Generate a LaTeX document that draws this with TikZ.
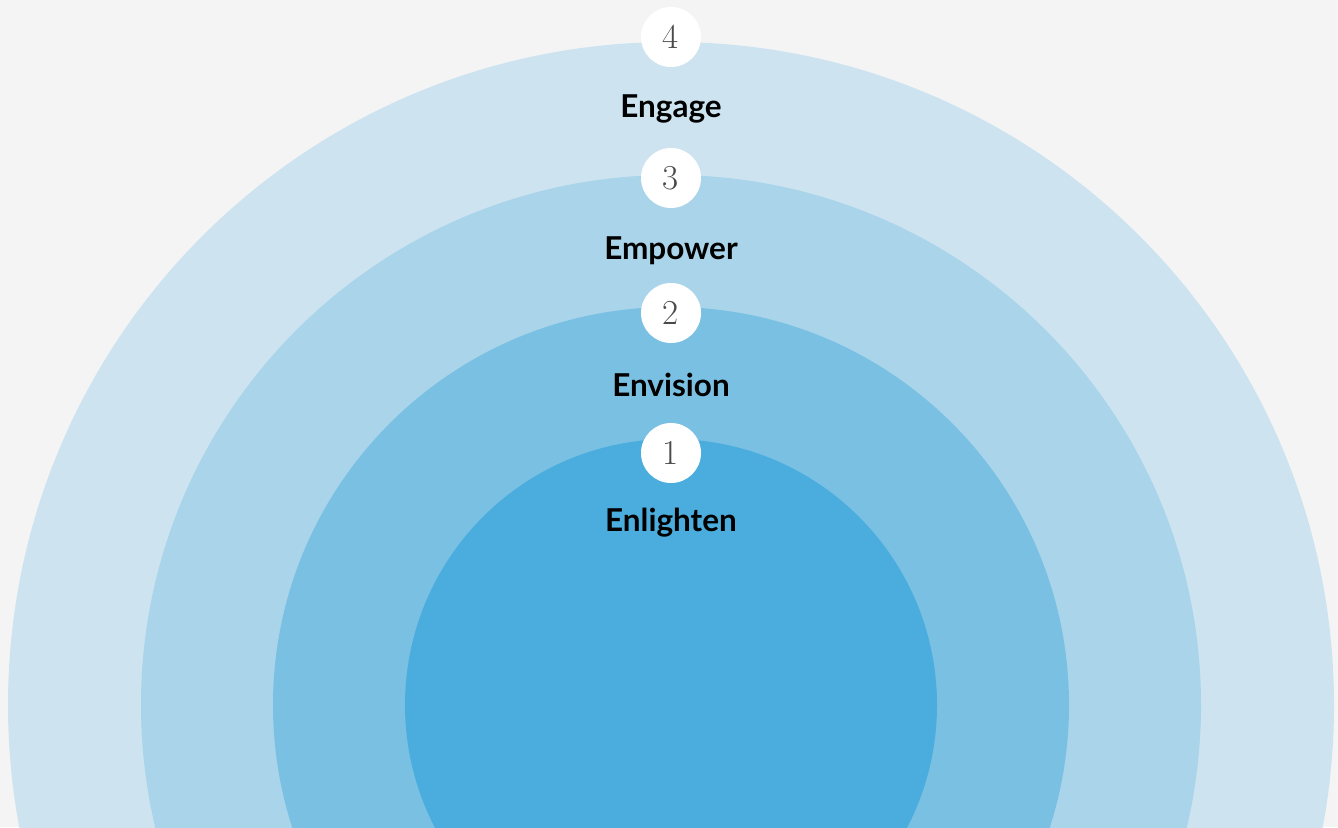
\documentclass[tikz,border=0pt]{standalone}
\usepackage{fontspec}
\newfontfamily\latofont{Lato}
\usetikzlibrary{positioning}
\definecolor{bgcol}{HTML}{F4F4F4}
\definecolor{ringa}{HTML}{CDE4F0}
\definecolor{ringb}{HTML}{A9D4EA}
\definecolor{ringc}{HTML}{7AC0E3}
\definecolor{ringd}{HTML}{4BADDD}
\definecolor{numcol}{HTML}{4A4A4A}
\begin{document}
\begin{tikzpicture}[x=1pt,y=1pt,
    num/.style = {shape=circle, fill=white, minimum size=60pt, inner sep=0pt,
    text=numcol, font=\fontsize{35}{35}\selectfont},
    lbl/.style = {font=\latofont\bfseries\fontsize{31.5}{31.5}\selectfont, text=black}]
    \useasboundingbox (0,0) rectangle (1338,827);
    \fill[bgcol] (0,0) rectangle (1338,827);
    \begin{scope}
      \clip (0,0) rectangle (1338,827);
      \coordinate (c) at (671,122);
      \fill[ringa] (c) circle (663);
      \fill[ringb] (c) circle (530);
      \fill[ringc] (c) circle (398);
      \fill[ringd] (c) circle (266);
    \end{scope}
    \node[num] (n4) at (671,790) {4};
    \node[num] (n3) at (671,649) {3};
    \node[num] (n2) at (671,514) {2};
    \node[num] (n1) at (671,374) {1};
    \node[lbl] (engage) at (671,718) {Engage};
    \node[lbl] (empower) at (671,576) {Empower};
    \node[lbl] (envision) at (671,442) {Envision};
    \node[lbl] (enlighten) at (671,304) {Enlighten};
  \end{tikzpicture}
\end{document}
